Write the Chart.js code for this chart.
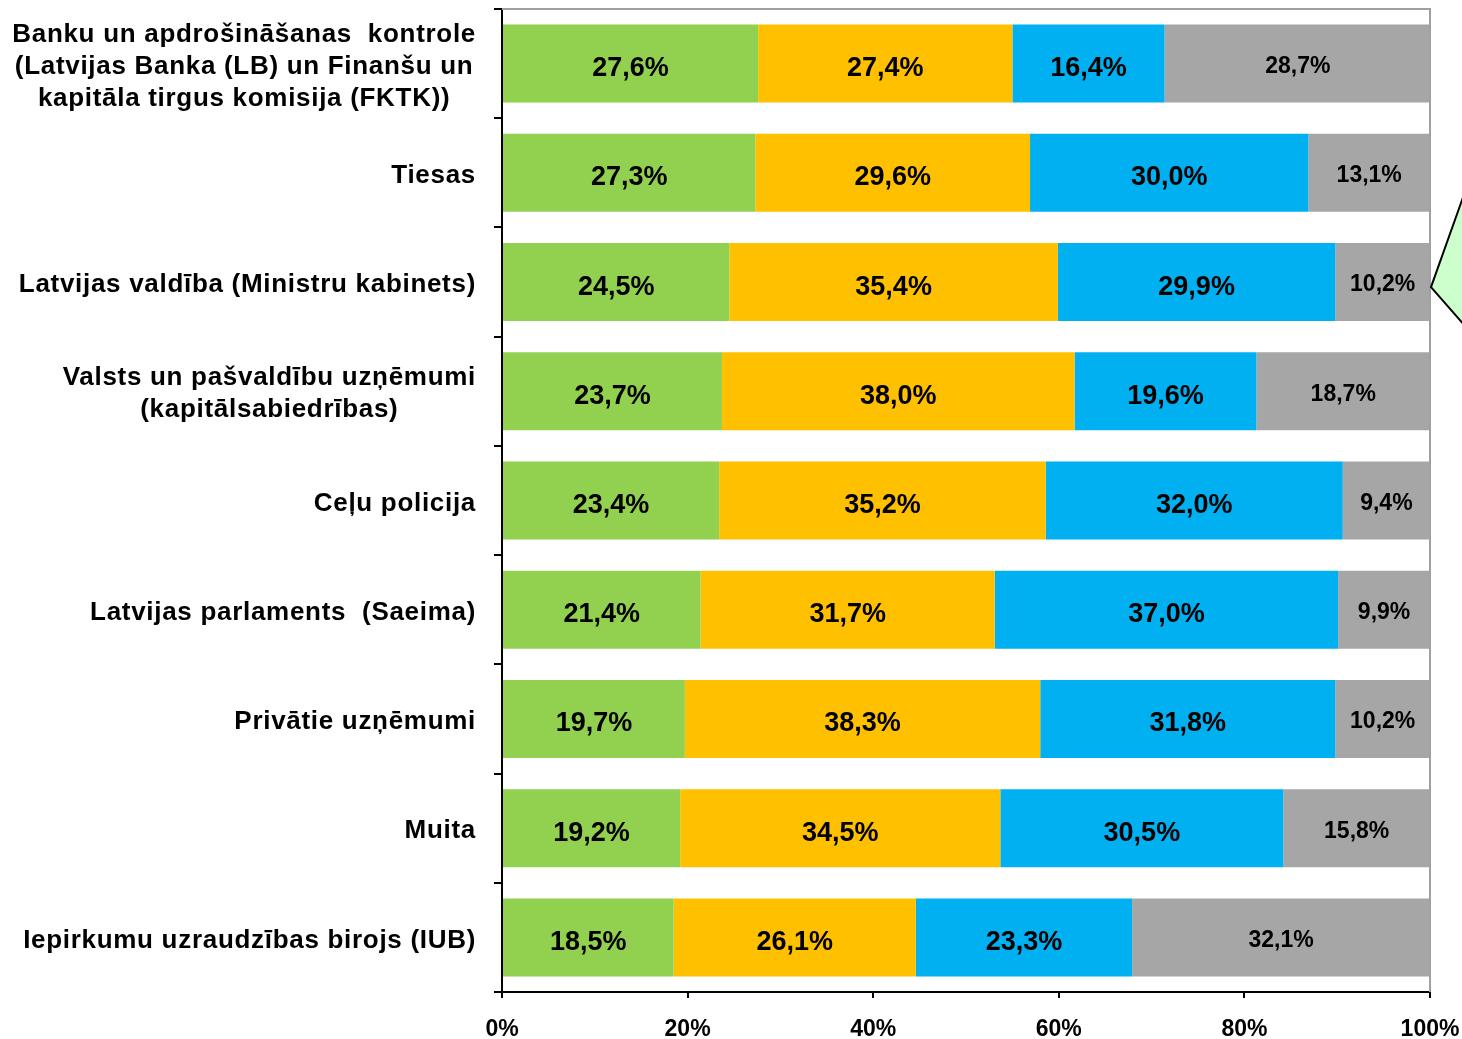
<!DOCTYPE html>
<html>
<head>
<meta charset="utf-8">
<script src="https://cdn.jsdelivr.net/npm/chart.js@4/dist/chart.umd.min.js"></script>
<style>
  body { margin: 0; background: #fff; }
  #wrap { width: 1462px; height: 1039px; }
</style>
</head>
<body>
<div id="wrap"><canvas id="TrustChart" width="1462" height="1039"></canvas></div>
<script>
// categories (top to bottom)
var categories = [
  ["Banku un apdrošināšanas  kontrole", "(Latvijas Banka (LB) un Finanšu un", "kapitāla tirgus komisija (FKTK))"],
  ["Tiesas"],
  ["Latvijas valdība (Ministru kabinets)"],
  ["Valsts un pašvaldību uzņēmumi", "(kapitālsabiedrības)"],
  ["Ceļu policija"],
  ["Latvijas parlaments  (Saeima)"],
  ["Privātie uzņēmumi"],
  ["Muita"],
  ["Iepirkumu uzraudzības birojs (IUB)"]
];

var greenValues  = [27.6, 27.3, 24.5, 23.7, 23.4, 21.4, 19.7, 19.2, 18.5];
var orangeValues = [27.4, 29.6, 35.4, 38.0, 35.2, 31.7, 38.3, 34.5, 26.1];
var blueValues   = [16.4, 30.0, 29.9, 19.6, 32.0, 37.0, 31.8, 30.5, 23.3];
var greyValues   = [28.7, 13.1, 10.2, 18.7, 9.4, 9.9, 10.2, 15.8, 32.1];

var xTicks = [0, 20, 40, 60, 80, 100];

var FONT = "'Liberation Sans', Arial, sans-serif";

function fmt(v) {
  return v.toFixed(1).replace(".", ",") + "%";
}

// labels inside the bar segments
var segmentLabels = {
  id: "segmentLabels",
  afterDatasetsDraw: function (chart) {
    var ctx = chart.ctx;
    ctx.save();
    ctx.fillStyle = "#000";
    ctx.textAlign = "center";
    ctx.textBaseline = "middle";
    chart.data.datasets.forEach(function (ds, di) {
      var meta = chart.getDatasetMeta(di);
      ctx.font = "bold " + (di === 3 ? 23 : 27) + "px " + FONT;
      meta.data.forEach(function (bar, i) {
        var x = (bar.x + bar.base) / 2;
        ctx.fillText(fmt(ds.data[i]), x, bar.y + (di === 3 ? 3 : 5));
      });
    });
    ctx.restore();
  }
};

// category names: block right aligned to the axis, lines centred in the block
var categoryLabels = {
  id: "categoryLabels",
  afterDraw: function (chart) {
    var ctx = chart.ctx;
    var yScale = chart.scales.y;
    var right = chart.chartArea.left - 26;
    var lineH = 32;
    ctx.save();
    ctx.font = "bold 26px " + FONT;
    ctx.letterSpacing = "0.7px";
    ctx.fillStyle = "#000";
    ctx.textAlign = "center";
    ctx.textBaseline = "middle";
    chart.data.labels.forEach(function (lines, i) {
      var y = yScale.getPixelForValue(i) + 3;
      var w = 0;
      lines.forEach(function (l) { w = Math.max(w, ctx.measureText(l).width); });
      var cx = right - w / 2;
      var y0 = y - (lines.length - 1) * lineH / 2;
      lines.forEach(function (l, k) {
        ctx.fillText(l, cx, y0 + k * lineH);
      });
    });
    ctx.restore();
  }
};

// gray frame on top/right of plot area and the green callout edge
var frameAndCallout = {
  id: "frameAndCallout",
  afterDraw: function (chart) {
    var ctx = chart.ctx;
    var a = chart.chartArea;
    ctx.save();
    ctx.strokeStyle = "#a0a0a0";
    ctx.lineWidth = 2;
    ctx.beginPath();
    ctx.moveTo(a.left, a.top);
    ctx.lineTo(a.right, a.top);
    ctx.lineTo(a.right, a.bottom);
    ctx.stroke();

    var yScale = chart.scales.y;
    var py = yScale.getPixelForValue(2);
    ctx.fillStyle = "#ccffcc";
    ctx.strokeStyle = "#000";
    ctx.lineWidth = 2;
    ctx.beginPath();
    ctx.moveTo(1472, py - 110);
    ctx.lineTo(a.right + 1, py + 5);
    ctx.lineTo(1472, py + 52);
    ctx.closePath();
    ctx.fill();
    ctx.stroke();
    ctx.restore();
  }
};

var ctx = document.getElementById("TrustChart").getContext("2d");
var chart = new Chart(ctx, {
  type: "bar",
  data: {
    labels: categories,
    datasets: [
      { label: "1", data: greenValues, backgroundColor: "#92d050" },
      { label: "2", data: orangeValues, backgroundColor: "#ffc000" },
      { label: "3", data: blueValues, backgroundColor: "#00b0f0" },
      { label: "4", data: greyValues, backgroundColor: "#a6a6a6" }
    ]
  },
  options: {
    indexAxis: "y",
    responsive: false,
    animation: false,
    barPercentage: 0.714,
    categoryPercentage: 1,
    layout: { padding: { left: 0, right: 32, top: 9, bottom: 0 } },
    plugins: {
      legend: { display: false },
      tooltip: { enabled: false }
    },
    scales: {
      x: {
        stacked: true,
        min: 0,
        max: 100,
        afterBuildTicks: function (scale) {
          scale.ticks = xTicks.map(function (v) { return { value: v }; });
        },
        afterFit: function (scale) {
          scale.height = 47;
          scale.paddingLeft = 0;
          scale.paddingRight = 0;
        },
        border: { color: "#000", width: 2 },
        grid: { drawOnChartArea: false, drawTicks: true, tickLength: 6, color: "#000", lineWidth: 2 },
        ticks: {
          color: "#000",
          padding: 18,
          maxRotation: 0,
          font: { family: FONT, size: 23, weight: "bold" },
          callback: function (v) { return v + "%"; }
        }
      },
      y: {
        stacked: true,
        afterFit: function (scale) { scale.width = 502; },
        border: { color: "#000", width: 2 },
        grid: { offset: true, drawOnChartArea: false, drawTicks: true, tickLength: 8, color: "#000", lineWidth: 2 },
        ticks: { display: false }
      }
    }
  },
  plugins: [segmentLabels, categoryLabels, frameAndCallout]
});
</script>
</body>
</html>
